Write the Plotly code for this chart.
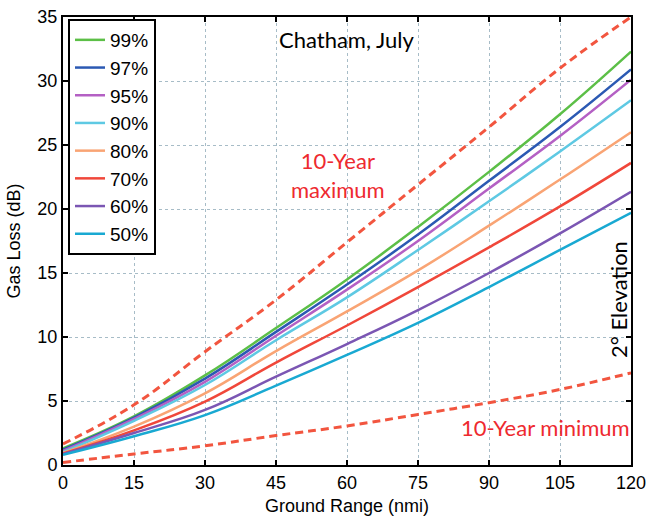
import plotly.graph_objects as go

# Ground range (nmi)
ground_range = [0, 15, 30, 45, 60, 75, 90, 105, 120]

# Gas loss (dB) per percentile
p99 = [1.3, 3.8, 7.0, 10.7, 14.5, 18.6, 22.9, 27.4, 32.3]
p97 = [1.2, 3.7, 6.75, 10.4, 14.1, 18.0, 22.2, 26.4, 30.9]
p95 = [1.1, 3.6, 6.5, 10.1, 13.7, 17.5, 21.6, 25.7, 30.1]
p90 = [1.0, 3.45, 6.25, 9.75, 13.1, 16.8, 20.6, 24.5, 28.5]
p80 = [0.95, 3.0, 5.6, 8.9, 12.0, 15.2, 18.7, 22.3, 26.0]
p70 = [0.9, 2.7, 4.95, 8.0, 10.9, 13.9, 17.0, 20.2, 23.6]
p60 = [0.85, 2.5, 4.3, 6.9, 9.45, 12.1, 15.0, 18.1, 21.35]
p50 = [0.8, 2.25, 3.9, 6.2, 8.6, 11.1, 13.9, 16.8, 19.7]

max10 = [1.65, 4.7, 8.85, 12.9, 17.4, 21.9, 26.4, 31.0, 35.0]
min10 = [0.2, 0.86, 1.5, 2.3, 3.05, 3.95, 4.87, 5.9, 7.2]

series_names = ["99%", "97%", "95%", "90%", "80%", "70%", "60%", "50%"]
series_values = [p99, p97, p95, p90, p80, p70, p60, p50]
series_colors = ["#5cbf47", "#2b59b3", "#b460c4", "#5ec9e3",
                 "#f9a474", "#f0473a", "#7b56b3", "#19a9d2"]

x_ticks = [0, 15, 30, 45, 60, 75, 90, 105, 120]
y_ticks = [0, 5, 10, 15, 20, 25, 30, 35]

FONT = "Arial, Liberation Sans, sans-serif"
ANN_FONT = "Lato"

fig = go.Figure()

for ys in (max10, min10):
    fig.add_trace(go.Scatter(
        x=ground_range, y=ys, mode="lines", showlegend=False,
        line=dict(color="#f2553f", width=3, dash="8px,5px", shape="spline", smoothing=1.2),
    ))

for name, ys, col in zip(series_names, series_values, series_colors):
    fig.add_trace(go.Scatter(
        x=ground_range, y=ys, mode="lines", name=name,
        line=dict(color=col, width=2.5, shape="spline", smoothing=1.2),
    ))

axis_common = dict(
    showline=True, linecolor="black", linewidth=2, mirror="ticks",
    ticks="inside", ticklen=5, tickwidth=2, tickcolor="black",
    showgrid=True, gridcolor="#a7bcc7", griddash="dot", gridwidth=1,
    zeroline=False, automargin=False,
    tickfont=dict(family=FONT, size=18, color="black"),
)

fig.update_xaxes(range=[0, 120], tickvals=x_ticks, ticktext=[str(v) for v in x_ticks],
                 title=dict(text="Ground Range (nmi)", standoff=8,
                            font=dict(family=FONT, size=18, color="black")),
                 **axis_common)
fig.update_yaxes(range=[0, 35], tickvals=y_ticks, ticktext=[str(v) for v in y_ticks],
                 title=dict(text="Gas Loss (dB)", standoff=12,
                            font=dict(family=FONT, size=18, color="black")),
                 **axis_common)

def px_x(p):
    return (p - 63) / 568

def px_y(p):
    return (465 - p) / 448

ann = dict(showarrow=False, xref="paper", yref="paper", xanchor="center", yanchor="middle")
fig.add_annotation(text="Chatham, July", x=px_x(346), y=px_y(40),
                   font=dict(family=ANN_FONT, size=22, color="black"), **ann)
fig.add_annotation(text="10-Year<br>maximum", x=px_x(338), y=px_y(175),
                   font=dict(family=ANN_FONT, size=22, color="#ee2a2f"), **ann)
fig.add_annotation(text="10-Year minimum", x=px_x(545), y=px_y(427),
                   font=dict(family=ANN_FONT, size=22, color="#ee2a2f"), **ann)
fig.add_annotation(text="2° Elevation", x=px_x(618), y=px_y(300), textangle=-90,
                   font=dict(family=ANN_FONT, size=22, color="black"), **ann)

fig.update_layout(
    width=650, height=518,
    margin=dict(l=63, r=19, t=17, b=53, autoexpand=False),
    paper_bgcolor="white", plot_bgcolor="white",
    legend=dict(x=px_x(68), y=px_y(19), xanchor="left", yanchor="top",
                bgcolor="white", bordercolor="black", borderwidth=2,
                font=dict(family=FONT, size=19, color="black"),
                tracegroupgap=0),
)

fig.write_html("out.html")
